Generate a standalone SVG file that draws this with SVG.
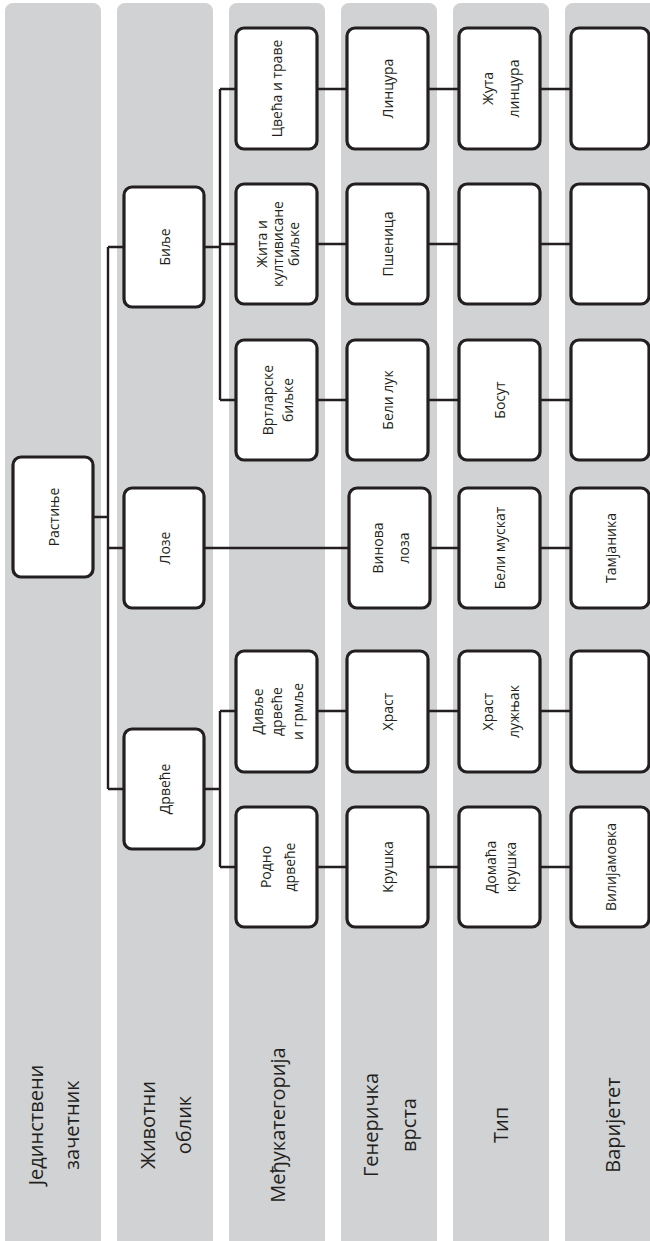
<svg xmlns="http://www.w3.org/2000/svg" width="650" height="1241" viewBox="0 0 650 1241">
<style>
.band{fill:#d1d2d4;}
.box{fill:#ffffff;stroke:#231f20;stroke-width:3.2;}
.c{fill:none;stroke:#231f20;stroke-width:2.4;}
.t{font-family:"Open Sans","Noto Sans",sans-serif;font-size:14px;fill:#231f20;text-anchor:middle;dominant-baseline:central;}
.h{font-family:"Open Sans","Noto Sans",sans-serif;font-size:20px;fill:#231f20;text-anchor:middle;dominant-baseline:central;}
</style>
<g id="bands">
<rect class="band" x="5" y="3" width="96" height="1250" rx="8"/>
<rect class="band" x="117" y="3" width="96" height="1250" rx="8"/>
<rect class="band" x="229" y="3" width="96" height="1250" rx="8"/>
<rect class="band" x="341" y="3" width="96" height="1250" rx="8"/>
<rect class="band" x="453" y="3" width="96" height="1250" rx="8"/>
<rect class="band" x="565" y="3" width="96" height="1250" rx="8"/>
</g>
<g id="headers">
<text class="h" x="53" y="1125" transform="rotate(-90 53 1125)"><tspan x="53" dy="-18">Јединствени</tspan><tspan x="53" dy="36">зачетник</tspan></text>
<text class="h" x="165" y="1125" transform="rotate(-90 165 1125)"><tspan x="165" dy="-18">Животни</tspan><tspan x="165" dy="36">облик</tspan></text>
<text class="h" x="277" y="1125" transform="rotate(-90 277 1125)">Међукатегорија</text>
<text class="h" x="389" y="1125" transform="rotate(-90 389 1125)"><tspan x="389" dy="-19">Генеричка</tspan><tspan x="389" dy="38">врста</tspan></text>
<text class="h" x="500" y="1125" transform="rotate(-90 500 1125)">Тип</text>
<text class="h" x="612" y="1125" transform="rotate(-90 612 1125)">Варијетет</text>
</g>
<g id="connectors">
<path class="c" d="M93 517H108M108 247V789M108 247H124M108 548H124M108 789H124"/>
<path class="c" d="M204 247H220M220 89V400M220 89H236M220 244H236M220 400H236"/>
<path class="c" d="M204 789H220M220 711V867M220 711H236M220 867H236"/>
<path class="c" d="M204 548H349"/>
<path class="c" d="M317 89H347M317 244H347M317 400H347M317 711H347M317 867H347"/>
<path class="c" d="M428 89H459M428 244H459M428 400H459M430 548H459M428 711H459M428 867H459"/>
<path class="c" d="M540 89H571M540 244H571M540 400H571M540 548H571M540 711H571M540 867H571"/>
</g>
<g id="n-rastinje"><rect class="box" x="13" y="457" width="80" height="120" rx="8"/><text class="t" x="53" y="517" transform="rotate(-90 53 517)">Растиње</text></g>
<g id="n-bilje"><rect class="box" x="124" y="187" width="80" height="120" rx="8"/><text class="t" x="164" y="247" transform="rotate(-90 164 247)">Биље</text></g>
<g id="n-loze"><rect class="box" x="124" y="488" width="80" height="120" rx="8"/><text class="t" x="164" y="548" transform="rotate(-90 164 548)">Лозе</text></g>
<g id="n-drvece"><rect class="box" x="124" y="729" width="80" height="120" rx="8"/><text class="t" x="164" y="789" transform="rotate(-90 164 789)">Дрвеће</text></g>
<g id="n-cveca"><rect class="box" x="236" y="28" width="81" height="121" rx="8"/><text class="t" x="276.5" y="88.5" transform="rotate(-90 276.5 88.5)">Цвећа и траве</text></g>
<g id="n-zita"><rect class="box" x="236" y="184" width="81" height="120" rx="8"/><text class="t" x="276.5" y="244" transform="rotate(-90 276.5 244)"><tspan x="276.5" dy="-16">Жита и</tspan><tspan x="276.5" dy="16">култивисане</tspan><tspan x="276.5" dy="16">биљке</tspan></text></g>
<g id="n-vrtlarske"><rect class="box" x="236" y="340" width="81" height="120" rx="8"/><text class="t" x="276.5" y="400" transform="rotate(-90 276.5 400)"><tspan x="276.5" dy="-10">Вртларске</tspan><tspan x="276.5" dy="20">биљке</tspan></text></g>
<g id="n-divlje"><rect class="box" x="236" y="651" width="81" height="121" rx="8"/><text class="t" x="276.5" y="711.5" transform="rotate(-90 276.5 711.5)"><tspan x="276.5" dy="-20">Дивље</tspan><tspan x="276.5" dy="19">дрвеће</tspan><tspan x="276.5" dy="21">и грмље</tspan></text></g>
<g id="n-rodno"><rect class="box" x="236" y="807" width="81" height="120" rx="8"/><text class="t" x="276.5" y="867" transform="rotate(-90 276.5 867)"><tspan x="276.5" dy="-12">Родно</tspan><tspan x="276.5" dy="24">дрвеће</tspan></text></g>
<g id="n-lincura"><rect class="box" x="347" y="28" width="81" height="121" rx="8"/><text class="t" x="387.5" y="88.5" transform="rotate(-90 387.5 88.5)">Линцура</text></g>
<g id="n-psenica"><rect class="box" x="347" y="184" width="81" height="120" rx="8"/><text class="t" x="387.5" y="244" transform="rotate(-90 387.5 244)">Пшеница</text></g>
<g id="n-beli-luk"><rect class="box" x="347" y="340" width="81" height="120" rx="8"/><text class="t" x="387.5" y="400" transform="rotate(-90 387.5 400)">Бели лук</text></g>
<g id="n-vinova"><rect class="box" x="349" y="488" width="81" height="120" rx="8"/><text class="t" x="389.5" y="548" transform="rotate(-90 389.5 548)"><tspan x="389.5" dy="-13">Винова</tspan><tspan x="389.5" dy="26">лоза</tspan></text></g>
<g id="n-hrast"><rect class="box" x="347" y="651" width="81" height="121" rx="8"/><text class="t" x="387.5" y="711.5" transform="rotate(-90 387.5 711.5)">Храст</text></g>
<g id="n-kruska"><rect class="box" x="347" y="807" width="81" height="120" rx="8"/><text class="t" x="387.5" y="867" transform="rotate(-90 387.5 867)">Крушка</text></g>
<g id="n-zuta"><rect class="box" x="459" y="28" width="81" height="121" rx="8"/><text class="t" x="499.5" y="88.5" transform="rotate(-90 499.5 88.5)"><tspan x="499.5" dy="-13">Жута</tspan><tspan x="499.5" dy="26">линцура</tspan></text></g>
<g id="n-t2"><rect class="box" x="459" y="184" width="81" height="120" rx="8"/></g>
<g id="n-bosut"><rect class="box" x="459" y="340" width="81" height="120" rx="8"/><text class="t" x="499.5" y="400" transform="rotate(-90 499.5 400)">Босут</text></g>
<g id="n-muskat"><rect class="box" x="459" y="488" width="81" height="120" rx="8"/><text class="t" x="499.5" y="548" transform="rotate(-90 499.5 548)">Бели мускат</text></g>
<g id="n-luznjak"><rect class="box" x="459" y="651" width="81" height="121" rx="8"/><text class="t" x="499.5" y="711.5" transform="rotate(-90 499.5 711.5)"><tspan x="499.5" dy="-13">Храст</tspan><tspan x="499.5" dy="26">лужњак</tspan></text></g>
<g id="n-domaca"><rect class="box" x="459" y="807" width="81" height="120" rx="8"/><text class="t" x="499.5" y="867" transform="rotate(-90 499.5 867)"><tspan x="499.5" dy="-10">Домаћа</tspan><tspan x="499.5" dy="20">крушка</tspan></text></g>
<g id="n-v1"><rect class="box" x="571" y="28" width="78" height="121" rx="8"/></g>
<g id="n-v2"><rect class="box" x="571" y="184" width="78" height="120" rx="8"/></g>
<g id="n-v3"><rect class="box" x="571" y="340" width="78" height="120" rx="8"/></g>
<g id="n-tamjanika"><rect class="box" x="571" y="488" width="78" height="120" rx="8"/><text class="t" x="610" y="548" transform="rotate(-90 610 548)">Тамјаника</text></g>
<g id="n-v5"><rect class="box" x="571" y="651" width="78" height="121" rx="8"/></g>
<g id="n-vilijamovka"><rect class="box" x="571" y="807" width="78" height="120" rx="8"/><text class="t" x="610" y="867" transform="rotate(-90 610 867)">Вилијамовка</text></g>
</svg>
